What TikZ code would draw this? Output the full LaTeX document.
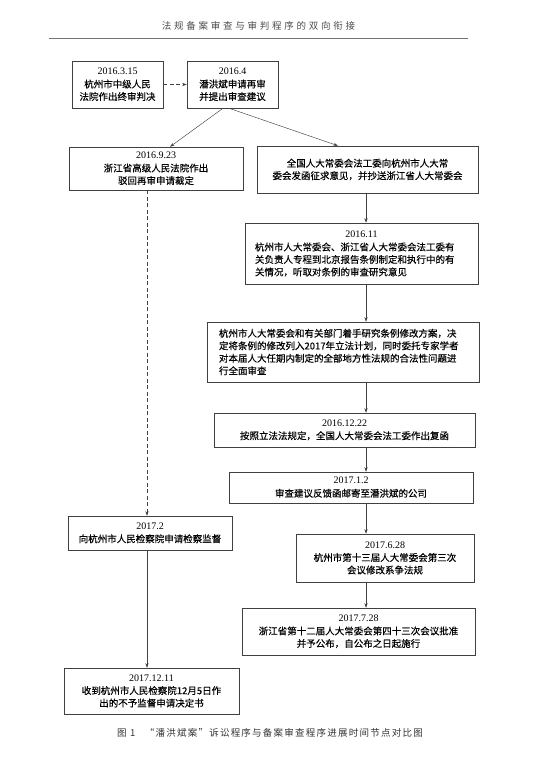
\documentclass[tikz,border=0pt]{standalone}
\usepackage{fontspec}
\setmainfont{Liberation Serif}
\newfontfamily\cjk{Noto Sans CJK SC}[FakeBold=0.4]
\newfontfamily\cjkhead{Noto Sans CJK SC}[LetterSpace=29]
\newfontfamily\cjkcap{Noto Sans CJK SC}[LetterSpace=13]
\usetikzlibrary{arrows.meta}
\newcommand{\dt}[1]{{\rmfamily\fontsize{10}{12.5}\selectfont #1}}

\begin{document}
\begin{tikzpicture}[x=1pt,y=-1pt,
    >={Stealth[length=4.5pt,width=3pt]},
    stage/.style={draw=black!75, line width=0.5pt, inner sep=0pt, align=center,
        font=\cjk\fontsize{9.5}{12.5}\selectfont},
    longstage/.style={stage, align=left, inner ysep=0pt},
    link/.style={->, line width=0.45pt, black!75},
    dashlink/.style={link, dash pattern=on 4pt off 2.5pt}]
    \useasboundingbox (0,0) rectangle (553,765);
    \node[font=\cjkhead\fontsize{9.5}{11}\selectfont, black!70] (title) at (258.5,26) {法规备案审查与审判程序的双向衔接};
    \draw[black!55, line width=0.4pt] (49,38) -- (468,38);
    \draw
    (117.5,84.5) node[stage, minimum width=91pt, minimum height=47pt] (a) {\dt{2016.3.15}\\[0.5pt]杭州市中级人民\\法院作出终审判决}
    (232.5,84.5) node[stage, minimum width=91pt, minimum height=47pt] (b) {\dt{2016.4}\\[0.5pt]潘洪斌申请再审\\并提出审查建议}
    (156,168.5) node[stage, minimum width=174pt, minimum height=43pt] (c) {\dt{2016.9.23}\\[0.5pt]浙江省高级人民法院作出\\驳回再审申请裁定}
    (367.5,169.5) node[stage, minimum width=221pt, minimum height=47pt] (d) {全国人大常委会法工委向杭州市人大常\\委会发函征求意见，并抄送浙江省人大常委会}
    (361.5,253.5) node[longstage, text width=213pt, inner xsep=10pt, minimum height=61pt] (e) {\makebox[\linewidth]{\dt{2016.11}}\\[1pt]杭州市人大常委会、浙江省人大常委会法工委有\\关负责人专程到北京报告条例制定和执行中的有\\关情况，听取对条例的审查研究意见}
    (343,352) node[longstage, text width=248pt, inner xsep=12pt, minimum height=60pt] (f) {杭州市人大常委会和有关部门着手研究条例修改方案，决\\定将条例的修改列入2017年立法计划，同时委托专家学者\\对本届人大任期内制定的全部地方性法规的合法性问题进\\行全面审查}
    (344.5,430) node[stage, minimum width=261pt, minimum height=34pt] (g) {\dt{2016.12.22}\\[0.5pt]按照立法法规定，全国人大常委会法工委作出复函}
    (351,487.5) node[stage, minimum width=244pt, minimum height=31pt] (h) {\dt{2017.1.2}\\[0.5pt]审查建议反馈函邮寄至潘洪斌的公司}
    (150,533) node[stage, minimum width=164pt, minimum height=34pt] (i) {\dt{2017.2}\\[0.5pt]向杭州市人民检察院申请检察监督}
    (385,558) node[stage, minimum width=178pt, minimum height=48pt] (j) {\dt{2017.6.28}\\[0.5pt]杭州市第十三届人大常委会第三次\\会议修改系争法规}
    (358.5,631.5) node[stage, minimum width=233pt, minimum height=47pt] (k) {\dt{2017.7.28}\\[0.5pt]浙江省第十二届人大常委会第四十三次会议批准\\并予公布，自公布之日起施行}
    (151.5,691) node[stage, minimum width=175pt, minimum height=46pt] (l) {\dt{2017.12.11}\\[0.5pt]收到杭州市人民检察院12月5日作\\出的不予监督申请决定书}
    ;
    \node[font=\cjkcap\fontsize{9.5}{11}\selectfont, black!80] (caption) at (270,733) {图 1\quad “潘洪斌案”诉讼程序与备案审查程序进展时间节点对比图};
    % columns of the vertical connectors
    \coordinate (lcol) at (147,0);
    \coordinate (rcol) at (366,0);
    \draw[dashlink] (a) -- (b);
    \draw[link] ([xshift=-9.5pt]b.south) -- ([xshift=14pt]c.north);
    \draw[link] ([xshift=-3.5pt]b.south) -- ([xshift=-29.5pt]d.north);
    \draw[dashlink] (c.south -| lcol) -- (i.north -| lcol);
    \draw[link] (i.south -| lcol) -- (l.north -| lcol);
    \draw[link] (d.south -| rcol) -- (e.north -| rcol);
    \draw[link] (e.south -| rcol) -- (f.north -| rcol);
    \draw[link] (f.south -| rcol) -- (g.north -| rcol);
    \draw[link] (g.south -| rcol) -- (h.north -| rcol);
    \draw[link] (h.south -| rcol) -- (j.north -| rcol);
    \draw[link] (j.south -| rcol) -- (k.north -| rcol);
\end{tikzpicture}
\end{document}
